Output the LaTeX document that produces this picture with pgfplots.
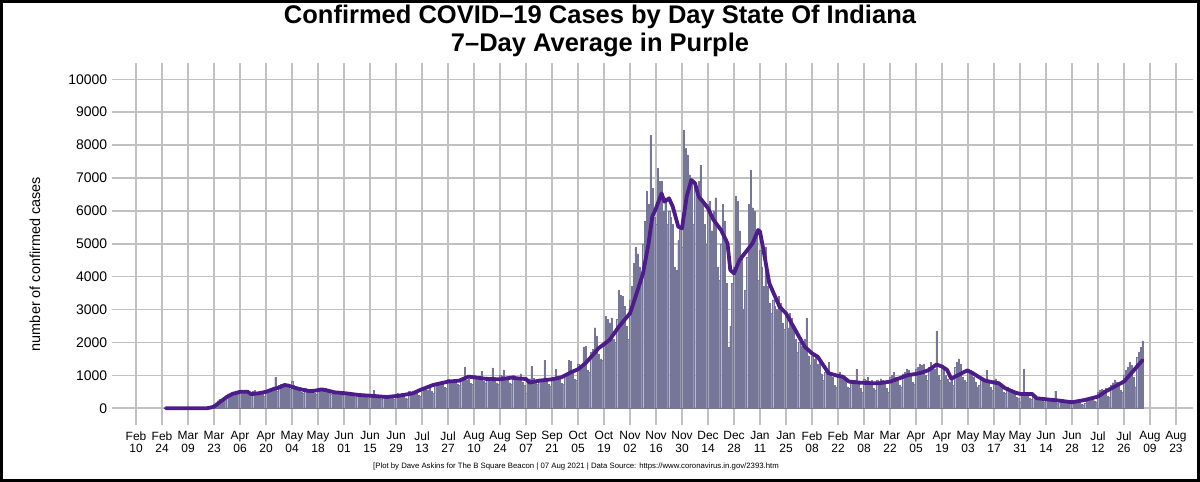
\documentclass[border=0pt]{standalone}
\usepackage{fontspec}
\setmainfont{Liberation Sans}
\usepackage{pgfplots}
\usepackage{pgfplotstable}
\pgfplotsset{compat=1.18}

\definecolor{barfill}{RGB}{150,150,180}
\definecolor{baredge}{RGB}{118,118,152}
\definecolor{avgline}{RGB}{75,28,138}
\definecolor{gridgray}{RGB}{192,192,192}

% daily confirmed cases, day 0 = 10 Feb 2020
\pgfplotstableread[row sep=\\]{
d v\\
16 0\\17 0\\18 0\\19 0\\20 0\\
21 0\\22 0\\23 0\\24 0\\25 1\\26 0\\27 1\\
28 1\\29 2\\30 3\\31 5\\32 6\\33 8\\34 10\\
35 12\\36 18\\37 25\\38 35\\39 45\\40 55\\41 65\\
42 120\\43 170\\44 230\\45 280\\46 270\\47 300\\48 290\\
49 350\\50 380\\51 410\\52 440\\53 470\\54 430\\55 420\\
56 500\\57 520\\58 470\\59 480\\60 510\\61 440\\62 400\\
63 520\\64 540\\65 500\\66 470\\67 510\\68 420\\69 380\\
70 520\\71 560\\72 540\\73 570\\74 600\\75 940\\76 520\\
77 700\\78 720\\79 680\\80 740\\81 710\\82 620\\83 580\\
84 840\\85 700\\86 650\\87 620\\88 640\\89 500\\90 470\\
91 600\\92 560\\93 540\\94 530\\95 560\\96 470\\97 440\\
98 600\\99 580\\100 560\\101 540\\102 600\\103 500\\104 460\\
105 420\\106 520\\107 500\\108 480\\109 500\\110 430\\111 400\\
112 500\\113 480\\114 470\\115 460\\116 450\\117 380\\118 350\\
119 460\\120 440\\121 420\\122 400\\123 410\\124 340\\125 310\\
126 400\\127 390\\128 540\\129 360\\130 370\\131 310\\132 290\\
133 390\\134 380\\135 360\\136 350\\137 380\\138 300\\139 280\\
140 430\\141 450\\142 440\\143 460\\144 380\\145 320\\146 290\\
147 520\\148 500\\149 490\\150 480\\151 470\\152 390\\153 360\\
154 620\\155 600\\156 580\\157 560\\158 600\\159 520\\160 470\\
161 760\\162 740\\163 730\\164 720\\165 760\\166 640\\167 600\\
168 880\\169 860\\170 840\\171 820\\172 860\\173 750\\174 700\\
175 920\\176 900\\177 1250\\178 860\\179 880\\180 760\\181 720\\
182 1000\\183 980\\184 960\\185 940\\186 1120\\187 820\\188 780\\
189 960\\190 940\\191 920\\192 1230\\193 940\\194 780\\195 740\\
196 1000\\197 980\\198 1150\\199 920\\200 940\\201 780\\202 740\\
203 1000\\204 980\\205 950\\206 930\\207 1050\\208 800\\209 700\\
210 450\\211 850\\212 900\\213 1280\\214 920\\215 760\\216 720\\
217 880\\218 860\\219 840\\220 1460\\221 850\\222 720\\223 680\\
224 920\\225 900\\226 1180\\227 880\\228 900\\229 760\\230 720\\
231 1000\\232 1050\\233 1450\\234 1420\\235 1100\\236 900\\237 850\\
238 1350\\239 1300\\240 1250\\241 1850\\242 1900\\243 1150\\244 1100\\
245 1700\\246 1800\\247 2450\\248 2200\\249 1650\\250 1500\\251 1450\\
252 1900\\253 2800\\254 2700\\255 2600\\256 2750\\257 2100\\258 2000\\
259 2700\\260 3600\\261 3450\\262 3400\\263 3100\\264 2500\\265 2100\\
266 3300\\267 3700\\268 4400\\269 4900\\270 4700\\271 4300\\272 3900\\
273 5000\\274 5700\\275 6600\\276 6200\\277 8300\\278 6700\\279 5800\\
280 5600\\281 7300\\282 6900\\283 6900\\284 6000\\285 6400\\286 5600\\
287 6000\\288 5800\\289 5600\\290 4300\\291 4200\\292 5100\\293 5500\\
294 4900\\295 8450\\296 7900\\297 7700\\298 7100\\299 6900\\300 5600\\
301 6800\\302 6500\\303 6900\\304 7400\\305 6200\\306 5600\\307 5000\\
308 6200\\309 6300\\310 5400\\311 6000\\312 6400\\313 4300\\314 3900\\
315 5000\\316 6200\\317 5700\\318 3800\\319 1850\\320 2500\\321 3800\\
322 4300\\323 6450\\324 6300\\325 5400\\326 4600\\327 3000\\328 3600\\
329 4600\\330 6200\\331 7250\\332 6100\\333 6000\\334 5300\\335 3900\\
336 4800\\337 4300\\338 3700\\339 4900\\340 3700\\341 3200\\342 2900\\
343 3300\\344 3100\\345 3000\\346 3400\\347 3200\\348 2600\\349 2400\\
350 2900\\351 2450\\352 2900\\353 2750\\354 2500\\355 2100\\356 1700\\
357 2000\\358 1900\\359 1850\\360 2100\\361 2750\\362 1600\\363 1300\\
364 1600\\365 1500\\366 1550\\367 1350\\368 1400\\369 1050\\370 850\\
371 1100\\372 1050\\373 1400\\374 1000\\375 950\\376 700\\377 650\\
378 1050\\379 1100\\380 950\\381 900\\382 850\\383 650\\384 600\\
385 850\\386 800\\387 850\\388 1200\\389 750\\390 600\\391 500\\
392 900\\393 850\\394 950\\395 800\\396 850\\397 600\\398 550\\
399 850\\400 800\\401 900\\402 850\\403 800\\404 600\\405 500\\
406 950\\407 1000\\408 1100\\409 950\\410 900\\411 700\\412 650\\
413 1050\\414 1100\\415 1200\\416 1150\\417 1000\\418 800\\419 750\\
420 1200\\421 1250\\422 1350\\423 1300\\424 1350\\425 1000\\426 850\\
427 1250\\428 1400\\429 1300\\430 1200\\431 2350\\432 1000\\433 850\\
434 1300\\435 1150\\436 1000\\437 900\\438 800\\439 850\\440 700\\
441 1250\\442 1400\\443 1500\\444 1350\\445 950\\446 850\\447 800\\
448 1200\\449 1150\\450 1100\\451 950\\452 800\\453 650\\454 700\\
455 950\\456 900\\457 850\\458 1150\\459 800\\460 650\\461 550\\
462 850\\463 900\\464 800\\465 700\\466 650\\467 500\\468 450\\
469 650\\470 600\\471 550\\472 500\\473 450\\474 350\\475 300\\
476 200\\477 450\\478 1180\\479 450\\480 400\\481 300\\482 280\\
483 400\\484 380\\485 350\\486 330\\487 320\\488 230\\489 200\\
490 320\\491 300\\492 290\\493 280\\494 260\\495 520\\496 160\\
497 280\\498 270\\499 260\\500 250\\501 240\\502 170\\503 150\\
504 240\\505 230\\506 220\\507 210\\508 200\\509 130\\510 110\\
511 150\\512 320\\513 330\\514 340\\515 350\\516 230\\517 200\\
518 500\\519 560\\520 580\\521 540\\522 600\\523 380\\524 330\\
525 700\\526 780\\527 860\\528 800\\529 750\\530 560\\531 500\\
532 1000\\533 1150\\534 1250\\535 1400\\536 1300\\537 950\\538 650\\
539 1550\\540 1700\\541 1850\\542 2050\\
}\daily

% 7-day average
\pgfplotstableread[row sep=\\]{
d v\\
16 0\\38 0\\40 20\\42 50\\45 180\\49 350\\52 440\\56 500\\60 505\\62 430\\
66 455\\70 500\\74 585\\77 630\\80 708\\82 690\\84 650\\88 585\\93 525\\96 530\\
100 575\\103 540\\107 485\\113 455\\120 404\\128 374\\135 343\\142 384\\149 455\\
153 557\\160 709\\168 810\\174 840\\179 962\\182 942\\189 891\\196 881\\202 932\\
207 900\\210 891\\212 780\\217 840\\224 881\\229 942\\235 1114\\238 1185\\
242 1367\\246 1620\\249 1823\\255 2077\\260 2480\\266 2887\\269 3394\\273 4100\\
276 5014\\278 5825\\280 6078\\283 6534\\284.5 6280\\287 6382\\289 6130\\
292 5520\\294 5470\\296.5 6430\\299 6940\\301 6840\\303 6430\\305 6300\\
308 6078\\311 5723\\315 5420\\318.5 5014\\320 4200\\322 4100\\325 4508\\
328.5 4760\\332 5014\\335 5420\\336 5370\\338.5 4610\\341 3800\\346.5 3090\\
350 2887\\354.5 2430\\360 1874\\364 1671\\367 1570\\370.6 1266\\373 1064\\
378 983\\380.5 962\\384 810\\389.5 780\\396.7 760\\400 760\\406 810\\411 912\\
416 1013\\420 1043\\424 1100\\427 1168\\431 1330\\434 1270\\436.7 1168\\
439 900\\441 960\\443 1016\\447.5 1150\\450 1087\\454 945\\457 843\\462 782\\
464.5 762\\468 610\\473.4 478\\476 437\\479 437\\482.5 437\\485 305\\490 274\\
497 234\\504 183\\511 254\\518 356\\522 508\\527 660\\532 813\\536 1067\\
539 1270\\542 1460\\
}\avg

\begin{document}
\begin{tikzpicture}[x=1bp,y=1bp]
\useasboundingbox (0,0) rectangle (1200,482);
\draw[line width=3bp] (1.5,1.5) rectangle (1198.5,480.5);

\node[font=\fontsize{25.6}{30}\selectfont\bfseries] at (600,465) {Confirmed COVID–19 Cases by Day State Of Indiana};
\node[font=\fontsize{25.6}{30}\selectfont\bfseries] at (600,437) {7–Day Average in Purple};
\node[rotate=90, font=\fontsize{14.5}{17}\selectfont] at (35,218) {number of confirmed cases};
\node[font=\fontsize{7.8}{9}\selectfont] at (576,15) {[Plot by Dave Askins for The B Square Beacon | 07 Aug 2021 | Data Source: https://www.coronavirus.in.gov/2393.htm};

\begin{axis}[
    at={(111.7bp,57bp)}, anchor=south west,
    scale only axis,
    width=1081bp, height=362.3bp,
    xmin=-13.1, xmax=569,
    ymin=-508, ymax=10505,
    axis line style={draw=none},
    major tick length=0pt,
    grid=major,
    major grid style={draw=gridgray, line width=1.6bp},
    ytick={0,1000,...,10000},
    xtick={0,14,...,560},
    xticklabels={{Feb\\10},{Feb\\24},{Mar\\09},{Mar\\23},{Apr\\06},{Apr\\20},{May\\04},{May\\18},{Jun\\01},{Jun\\15},{Jun\\29},{Jul\\13},{Jul\\27},{Aug\\10},{Aug\\24},{Sep\\07},{Sep\\21},{Oct\\05},{Oct\\19},{Nov\\02},{Nov\\16},{Nov\\30},{Dec\\14},{Dec\\28},{Jan\\11},{Jan\\25},{Feb\\08},{Feb\\22},{Mar\\08},{Mar\\22},{Apr\\05},{Apr\\19},{May\\03},{May\\17},{May\\31},{Jun\\14},{Jun\\28},{Jul\\12},{Jul\\26},{Aug\\09},{Aug\\23}},
    xticklabel style={align=center, font=\fontsize{12}{12.5}\selectfont, yshift=-3bp},
    yticklabel style={font=\fontsize{14}{16}\selectfont, xshift=-1bp},
    scaled y ticks=false,
    /pgf/number format/assume math mode=true,
    yticklabel={\pgfmathprintnumber[fixed,1000 sep={}]{\tick}},
]
\addplot[ybar, bar width=0.66, bar shift=0pt, fill=barfill, draw=baredge, line width=0.2bp] table[x=d, y=v] {\daily};
\addplot[avgline, line width=3.8bp, line join=round, line cap=round] table[x=d, y=v] {\avg};
\end{axis}
\end{tikzpicture}
\end{document}
